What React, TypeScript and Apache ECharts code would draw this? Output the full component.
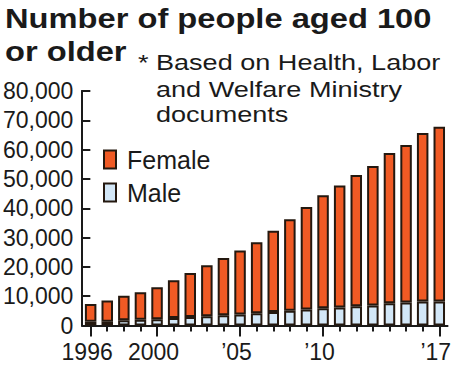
import React, { useEffect, useRef } from "react";
import * as echarts from "echarts";

const years = [
  "1996", "1997", "1998", "1999", "2000", "2001", "2002", "2003", "2004", "2005", "2006",
  "2007", "2008", "2009", "2010", "2011", "2012", "2013", "2014", "2015", "2016", "2017",
];
const xTickLabels = [
  "1996", "", "", "", "2000", "", "", "", "", "\u201905", "",
  "", "", "", "\u201910", "", "", "", "", "", "", "\u201917",
];
const male = [
  1250, 1310, 1810, 1970, 2160, 2540, 2880, 3160, 3520, 3780, 4150,
  4610, 5060, 5450, 5870, 6160, 6530, 6790, 7590, 7840, 8170, 8200,
];
const female = [
  6123, 7181, 8348, 9376, 10876, 12935, 15054, 17401, 19518, 21774, 24245,
  27685, 31216, 34949, 38579, 41596, 44846, 47607, 51230, 53728, 57522, 59624,
];
const yTicks = [0, 10000, 20000, 30000, 40000, 50000, 60000, 70000, 80000];
const titleLines = ["Number of people aged 100", "or older"];
const noteLines = ["Based on Health, Labor", "and Welfare Ministry", "documents"];

const FONT = '"Liberation Sans", Arial, Helvetica, sans-serif';
const INK = "#1a1a1a";
const BORDER = "#24180f";

export default function App() {
  const ref = useRef<HTMLDivElement>(null);
  useEffect(() => {
    if (!ref.current) return;
    const chart = echarts.init(ref.current, undefined, { renderer: "svg" });
    const axisLineStyle = { color: INK, width: 2 };
    const option: any = {
      animation: false,
      backgroundColor: "#ffffff",
      textStyle: { fontFamily: FONT },
      grid: { left: 81, right: 2.7, top: 91, bottom: 41.5, containLabel: false },
      legend: {
        data: ["Female", "Male"],
        orient: "vertical",
        left: 103,
        top: 147,
        padding: 0,
        itemGap: 8,
        itemWidth: 12,
        itemHeight: 18,
        icon: "rect",
        textStyle: { fontSize: 25, color: INK, fontFamily: FONT, padding: [0, 0, 0, 6] },
      },
      xAxis: [
        {
          type: "category",
          data: years,
          position: "bottom",
          axisLine: { show: true, lineStyle: axisLineStyle },
          axisTick: {
            show: true,
            alignWithLabel: true,
            length: 11,
            lineStyle: axisLineStyle,
            interval: (i: number) => xTickLabels[i] !== "",
          },
          axisLabel: {
            interval: 0,
            formatter: (_v: string, i: number) => xTickLabels[i],
            fontSize: 23,
            color: INK,
            fontFamily: FONT,
            margin: 15,
            padding: [0, 7, 0, 0],
          },
          splitLine: { show: false },
        },
        {
          type: "category",
          data: years,
          position: "bottom",
          axisLine: { show: false },
          axisTick: { show: true, alignWithLabel: true, length: 6, lineStyle: axisLineStyle, interval: 0 },
          axisLabel: { show: false },
          splitLine: { show: false },
        },
      ],
      yAxis: {
        type: "value",
        min: yTicks[0],
        max: yTicks[yTicks.length - 1],
        interval: yTicks[1] - yTicks[0],
        offset: 1,
        axisLine: { show: true, lineStyle: axisLineStyle },
        axisTick: { show: true, inside: true, length: 9, lineStyle: axisLineStyle },
        axisLabel: {
          fontSize: 23,
          color: INK,
          fontFamily: FONT,
          margin: 8,
          formatter: (v: number) => v.toLocaleString("en-US"),
        },
        splitLine: { show: false },
      },
      series: [
        {
          name: "Male",
          type: "bar",
          stack: "total",
          xAxisIndex: 0,
          barWidth: 11.5,
          data: male,
          itemStyle: { color: "#d3e7f7", borderColor: BORDER, borderWidth: 2 },
        },
        {
          name: "Female",
          type: "bar",
          stack: "total",
          xAxisIndex: 0,
          barWidth: 11.5,
          data: female,
          itemStyle: { color: "#f05a24", borderColor: BORDER, borderWidth: 2 },
        },
      ],
      graphic: [
        {
          type: "text",
          x: 5,
          y: 18.6,
          scaleX: 1.21,
          style: { text: titleLines[0], font: `bold 27px ${FONT}`, fill: INK, align: "left", verticalAlign: "middle" },
        },
        {
          type: "text",
          x: 5,
          y: 51.6,
          scaleX: 1.21,
          style: { text: titleLines[1], font: `bold 27px ${FONT}`, fill: INK, align: "left", verticalAlign: "middle" },
        },
        {
          type: "text",
          x: 138,
          y: 62.4,
          scaleX: 1.23,
          style: { text: "*", font: `22px ${FONT}`, fill: INK, align: "left", verticalAlign: "middle" },
        },
        ...noteLines.map((t, i) => ({
          type: "text",
          x: 156,
          y: [62.4, 89.4, 114.4][i],
          scaleX: 1.23,
          style: { text: t, font: `22px ${FONT}`, fill: INK, align: "left", verticalAlign: "middle" },
        })),
      ],
    };
    chart.setOption(option);
    return () => chart.dispose();
  }, []);
  return (
    <div
      ref={ref}
      style={{ position: "fixed", left: 0, top: 0, width: 454, height: 367, background: "#fff" }}
    />
  );
}
